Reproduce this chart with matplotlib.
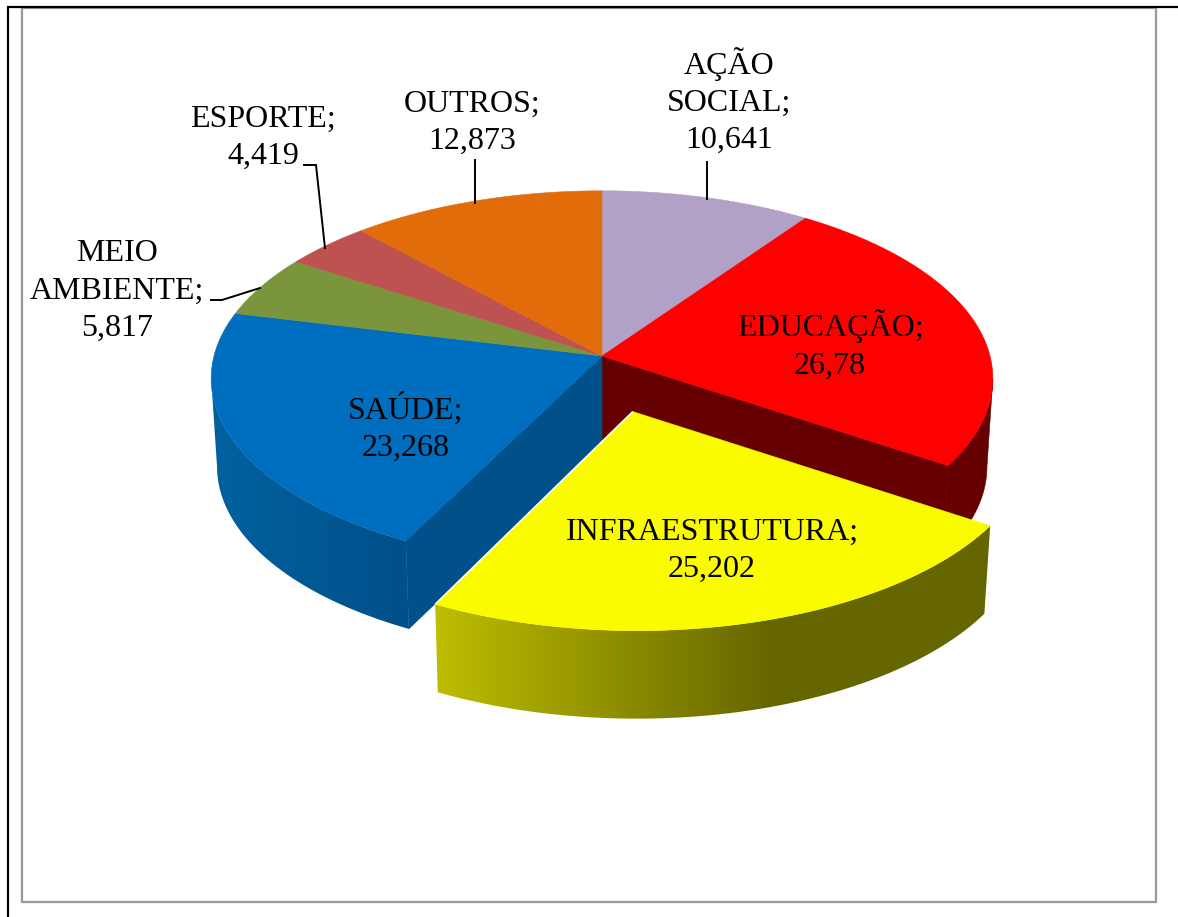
import numpy as np
import matplotlib
matplotlib.use("Agg")
import matplotlib.pyplot as plt
from matplotlib.colors import to_rgb
from matplotlib.patches import Polygon

names = ["AÇÃO\nSOCIAL", "EDUCAÇÃO", "INFRAESTRUTURA", "SAÚDE",
         "MEIO\nAMBIENTE", "ESPORTE", "OUTROS"]
values = [10.641, 26.78, 25.202, 23.268, 5.817, 4.419, 12.873]
top_colors = ["#B2A1C7", "#FF0000", "#FBFB00", "#006EBF", "#7B953C", "#BE5250", "#E36C0A"]
label_xy = [(729, 101), (830, 345), (712, 551), (406, 428), (117, 291), (263, 138), (472, 123)]

CX, CY = 602, 356
A, B, K = 388, 185, 0.12
SHRINK, DROP = 0.985, 88
EXPLODE = 0.30
EXPLODED_INDEX = 2
EXPLODED_SCALE = (0.99, 0.97)

fig = plt.figure(figsize=(11.78, 9.17), dpi=100, facecolor="white")
ax = fig.add_axes([0, 0, 1, 1])


def project(u, v, lower=False):
    d = 1 + K * v
    x = CX + A * u / d
    y = CY - B * v / d
    if lower:
        x = CX + SHRINK * (x - CX)
        y = y + DROP
    return x, y


frac = np.cumsum([0] + values) / np.sum(values)
angles = 2 * np.pi * frac


def geom(i):
    if i != EXPLODED_INDEX:
        return 0.0, 0.0, 1.0, 1.0
    mid = 0.5 * (angles[i] + angles[i + 1])
    return EXPLODE * np.sin(mid), EXPLODE * np.cos(mid), EXPLODED_SCALE[0], EXPLODED_SCALE[1]


def arc(i, lower=False):
    ou, ov, su, sv = geom(i)
    t = np.linspace(angles[i], angles[i + 1], 400)
    return project(su * np.sin(t) + ou, sv * np.cos(t) + ov, lower)


def wall_outline(i, side=None):
    """Visible side wall: the arcs are cut at the silhouette of the disc."""
    ux, uy = arc(i)
    lx, ly = arc(i, True)
    if side == "left":
        a, b = np.argmin(ux), np.argmin(lx)
        ux, uy, lx, ly = ux[:a + 1], uy[:a + 1], lx[:b + 1], ly[:b + 1]
    elif side == "right":
        a, b = np.argmax(ux), np.argmax(lx)
        ux, uy, lx, ly = ux[a:], uy[a:], lx[b:], ly[b:]
    return np.c_[np.r_[ux, lx[::-1]], np.r_[uy, ly[::-1]]]


def solid_wall(i, color, side=None):
    xy = wall_outline(i, side)
    ax.fill(xy[:, 0], xy[:, 1], color=color, lw=0.4)


def gradient_wall(i, x0, x1, c0, c1, side=None):
    xy = wall_outline(i, side)
    xs = np.linspace(xy[:, 0].min(), xy[:, 0].max(), 400)
    f = np.clip((xs - x0) / (x1 - x0), 0, 1)[:, None]
    a, b = np.array(to_rgb(c0)), np.array(to_rgb(c1))
    img = (a + (b - a) * f)[None, :, :]
    im = ax.imshow(img, extent=(xs[0], xs[-1], xy[:, 1].max(), xy[:, 1].min()),
                   aspect="auto", interpolation="bilinear")
    im.set_clip_path(Polygon(xy, closed=True, transform=ax.transData))


def radial_wall(t, color):
    ex, ey = project(np.sin(t), np.cos(t))
    lx0, ly0 = project(0, 0, True)
    lx1, ly1 = project(np.sin(t), np.cos(t), True)
    ax.fill([CX, ex, lx1, lx0], [CY, ey, ly1, ly0], color=color, lw=0.4)


def top_face(i):
    ou, ov, _, _ = geom(i)
    x, y = arc(i)
    px, py = project(ou, ov)
    ax.fill(np.r_[px, x], np.r_[py, y], facecolor=top_colors[i], edgecolor=top_colors[i], lw=0.4)


# walls of the unexploded part
solid_wall(1, "#660000", "right")
gradient_wall(3, 215, 410, "#00619F", "#00508A", "left")
radial_wall(angles[2], "#660000")
radial_wall(angles[3], "#00508A")

# top faces
for i in range(len(values)):
    if i != EXPLODED_INDEX:
        top_face(i)

# exploded slice
gradient_wall(EXPLODED_INDEX, 437, 770, "#BDBD00", "#666600")
top_face(EXPLODED_INDEX)
ou, ov, su, sv = geom(EXPLODED_INDEX)
px, py = project(ou, ov)
ex, ey = project(su * np.sin(angles[3]) + ou, sv * np.cos(angles[3]) + ov)
ax.plot([px, ex], [py, ey], color="white", lw=1.2, solid_capstyle="butt")

# leader lines
leaders = [([707, 707], [162, 199]),
           ([475, 475], [160, 203]),
           ([304, 316, 325], [165, 165, 248]),
           ([211, 222, 260], [300, 300, 288])]
for lx, ly in leaders:
    ax.plot(lx, ly, color="black", lw=1.4, solid_joinstyle="miter")

# labels
for n, v, (x, y) in zip(names, values, label_xy):
    ax.text(x, y, f"{n};\n{str(v).replace('.', ',')}", ha="center", va="center",
            family="Liberation Serif", fontsize=23, color="black", linespacing=1.37)

# frames
ax.plot([22, 1156, 1156, 22, 22], [8, 8, 902, 902, 8], color="#9A9A9A", lw=1.6, solid_joinstyle="miter")
ax.plot([8, 8, 1178], [917, 7, 7], color="black", lw=1.6, solid_joinstyle="miter")

ax.set_xlim(0, 1178)
ax.set_ylim(917, 0)
ax.axis("off")

fig.savefig("out.png", dpi=100)
